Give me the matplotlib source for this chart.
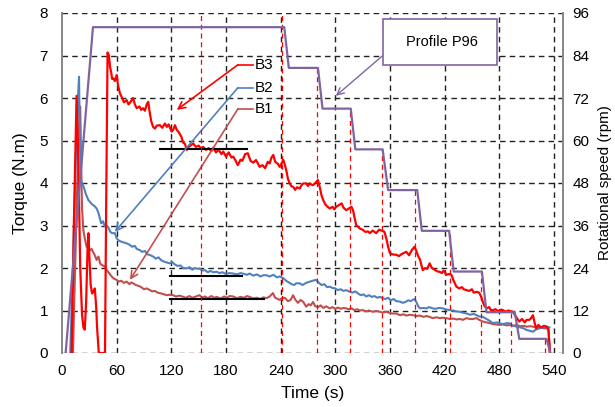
import matplotlib
matplotlib.use("Agg")
import matplotlib.pyplot as plt
from matplotlib.patches import Rectangle

plt.rcParams['font.family'] = ['Liberation Sans', 'DejaVu Sans']

# ---- torque traces (time in s, torque in N.m) ----
b3_t = [10.6, 13, 16, 18, 20, 22, 23.5, 25, 26.5, 28, 29, 30, 31.5, 33, 34.5, 36, 37.5, 38.5, 40.4,
        47.2, 48.5, 50, 51.5, 52.7, 54, 55, 56.3, 58, 60, 61.5, 63.6, 66, 68, 71, 73, 75, 78, 80, 82, 85,
        87, 89, 91, 93, 94.7, 96, 98, 100, 102, 104, 107.5, 110, 113, 115, 117, 120.3, 122, 124, 126,
        128, 131, 133, 135, 137, 139, 141, 144, 147, 150, 152, 155, 158, 161, 164, 166, 169, 172, 175,
        177, 180, 183, 186, 188, 190, 193, 196, 198, 201, 204, 207, 210, 213, 217, 220, 223, 226, 228,
        230, 232, 234, 237, 239, 241, 243, 245, 246.5, 248, 250, 252, 253.7, 256, 258, 261, 263, 265,
        268, 270, 272, 274, 275.6, 278, 281, 283, 285, 286.7, 289, 291, 294, 297, 299, 301, 304, 307,
        309, 312, 315, 317.8, 319.5, 321, 323, 325, 327, 330, 333, 336, 338, 341, 343, 345, 348, 351,
        354, 356, 358, 360, 363, 367, 370, 373, 376, 378, 381, 384, 387, 389, 391, 393, 396, 399, 401,
        403.6, 406, 409, 412, 414.6, 417, 419, 422, 425, 427.4, 430, 433, 436, 439, 441, 444, 447, 450,
        452, 455, 458, 460, 462, 464, 466, 469, 471, 473, 476, 479, 482, 484, 487, 490, 493, 495, 497,
        500, 502, 505, 508, 510, 513, 515, 517, 519, 520.6, 523, 526, 529, 532, 534, 535.5]
b3_q = [0, 3.0, 6.05, 4.5, 2.0, 0.9, 0.6, 0.55, 1.2, 2.4, 2.82, 2.3, 1.6, 1.4, 1.45, 1.52, 1.1, 0.6, 0,
        0, 3.5, 7.07, 7.0, 6.74, 6.6, 6.45, 6.46, 6.4, 6.54, 6.3, 6.11, 6.0, 5.9, 5.95, 5.85, 5.9, 6.0,
        5.85, 5.76, 5.8, 5.72, 5.76, 5.7, 5.85, 5.91, 5.7, 5.45, 5.32, 5.28, 5.35, 5.36, 5.30, 5.40,
        5.32, 5.38, 5.21, 5.25, 5.36, 5.25, 5.2, 5.09, 4.95, 4.92, 4.78, 4.85, 4.88, 4.93, 4.85, 4.88,
        4.82, 4.85, 4.78, 4.82, 4.75, 4.83, 4.72, 4.78, 4.68, 4.74, 4.62, 4.72, 4.6, 4.62, 4.55, 4.42,
        4.55, 4.52, 4.68, 4.70, 4.52, 4.48, 4.54, 4.38, 4.42, 4.35, 4.5, 4.46, 4.6, 4.66, 4.5, 4.45,
        4.38, 4.46, 4.54, 4.4, 4.27, 4.1, 3.99, 3.92, 3.91, 3.84, 3.9, 3.87, 3.95, 3.99, 3.99, 3.93,
        3.99, 3.96, 3.95, 4.0, 4.07, 3.9, 3.7, 3.6, 3.5, 3.45, 3.40, 3.44, 3.38, 3.44, 3.48, 3.52, 3.42,
        3.36, 3.4, 3.44, 3.36, 3.2, 3.01, 2.97, 2.93, 2.9, 2.85, 2.86, 2.82, 2.88, 2.85, 2.82, 2.9, 2.88,
        2.85, 2.7, 2.5, 2.35, 2.32, 2.31, 2.28, 2.33, 2.36, 2.38, 2.3, 2.42, 2.50, 2.4, 2.28, 2.2, 1.95,
        2.0, 1.98, 2.11, 2.0, 1.96, 1.92, 1.91, 1.88, 1.94, 1.84, 1.86, 1.84, 1.7, 1.56, 1.52, 1.55,
        1.5, 1.48, 1.46, 1.5, 1.42, 1.44, 1.42, 1.33, 1.2, 1.1, 1.05, 1.08, 1.0, 1.01, 1.03, 0.98, 1.02,
        1.01, 0.97, 1.0, 0.98, 0.97, 0.9, 0.8, 0.74, 0.8, 0.72, 0.78, 0.78, 0.82, 0.89, 0.7, 0.58,
        0.66, 0.6, 0.64, 0.62, 0.55, 0]

b2_t = [9, 12, 15, 17.5, 18.7, 19.5, 20.8, 22, 24, 26, 28.9, 31, 33, 36, 38, 40, 43, 45, 47, 49, 51,
        53, 55, 58, 60, 62, 65, 68, 71, 74, 77, 80, 82, 85.5, 88, 91, 94, 97, 100, 103, 106, 109, 112,
        115, 118, 121, 124, 127, 130, 133, 137, 140, 143, 146, 149, 151, 154, 157, 160, 163, 166, 170,
        173, 176, 180, 184, 188, 192, 196, 200, 203, 206, 210, 214, 218, 221, 224.5, 228, 232, 236, 239,
        243, 246, 249, 252, 255, 257, 261, 264, 268, 272, 275, 279, 282, 285, 288, 291, 294, 297, 300,
        303, 306, 309, 312, 316, 319, 322, 325, 328, 331, 334, 337, 340, 343, 346, 349, 352, 355, 358,
        361, 364, 367, 371, 374, 377, 380, 383, 385, 387, 389, 391, 393, 396, 400, 403, 407, 410, 414,
        418, 421, 425.6, 429, 433, 436.6, 440, 444, 448, 452, 455, 458, 462, 466, 470, 473, 477, 480.5,
        484, 488, 491, 494, 499, 503, 507, 510, 514, 517, 520, 524, 528, 533, 535]
b2_q = [0, 2.0, 4.5, 6.0, 6.5, 5.2, 4.07, 4.0, 3.9, 3.75, 3.6, 3.55, 3.5, 3.45, 3.4, 3.3, 3.05, 3.1,
        2.98, 3.0, 2.95, 2.85, 2.82, 2.82, 2.7, 2.65, 2.62, 2.6, 2.58, 2.55, 2.5, 2.52, 2.45, 2.42,
        2.38, 2.4, 2.32, 2.3, 2.27, 2.22, 2.25, 2.18, 2.15, 2.13, 2.11, 2.14, 2.08, 2.05, 2.06, 2.0,
        1.99, 2.02, 1.96, 2.0, 1.98, 1.99, 1.94, 1.95, 1.9, 1.93, 1.9, 1.91, 1.88, 1.9, 1.86, 1.88,
        1.87, 1.85, 1.88, 1.86, 1.84, 1.87, 1.82, 1.85, 1.8, 1.83, 1.83, 1.8, 1.84, 1.78, 1.8, 1.76,
        1.7, 1.66, 1.62, 1.60, 1.64, 1.64, 1.6, 1.65, 1.68, 1.7, 1.72, 1.65, 1.6, 1.62, 1.55, 1.56,
        1.53, 1.52, 1.48, 1.5, 1.46, 1.48, 1.44, 1.42, 1.45, 1.4, 1.36, 1.38, 1.33, 1.36, 1.32, 1.34,
        1.3, 1.32, 1.29, 1.27, 1.3, 1.24, 1.27, 1.22, 1.21, 1.18, 1.2, 1.24, 1.22, 1.25, 1.27, 1.2,
        1.1, 1.05, 1.06, 1.05, 1.08, 1.05, 1.04, 1.06, 1.05, 1.03, 1.01, 1.0, 0.98, 0.97, 0.95, 0.93,
        0.9, 0.92, 0.89, 0.86, 0.85, 0.8, 0.75, 0.70, 0.72, 0.70, 0.68, 0.7, 0.70, 0.65, 0.62, 0.6,
        0.58, 0.54, 0.52, 0.50, 0.55, 0.58, 0.6, 0.62, 0.6]

b1_t = [12, 15, 18, 20, 21, 22, 23.4, 25, 27, 29, 30.7, 32.5, 34, 36, 38, 40, 42, 44, 47, 49, 51,
        54.5, 57, 60, 62, 65, 68, 71, 74, 76, 78, 81, 84, 87, 90, 93, 96.5, 99, 102, 105, 109, 112,
        115, 118, 122, 125, 129, 133, 136, 140, 143, 147, 151, 154, 157, 160, 164, 167, 170, 174, 178,
        181, 184, 188, 192, 196, 200, 203, 206, 210, 214, 218, 221, 224.5, 228, 231.5, 234, 237, 239,
        242, 245, 248, 251, 253.7, 256, 259, 262, 265, 268, 271, 273, 275.6, 278, 281, 284, 287, 290,
        294, 297, 300, 303, 306, 309, 312, 315, 318, 321, 324, 327, 330, 334, 337, 341, 345, 349, 352,
        356, 360, 363, 367, 371, 375, 378, 382, 385, 389, 393, 397, 400, 403.6, 407, 411, 415, 418, 422,
        426, 430, 433, 437, 440, 444, 448, 451, 455, 458, 462, 466, 470, 473, 477, 480.5, 484, 488, 492,
        495, 499, 503, 507, 510, 514, 517, 521, 525, 529, 532, 534, 536]
b1_q = [0, 2.5, 5.0, 5.8, 4.5, 3.4, 2.9, 2.7, 2.5, 2.45, 2.42, 2.45, 2.38, 2.3, 2.19, 2.27, 2.1,
        2.07, 2.03, 1.95, 1.9, 1.8, 1.75, 1.72, 1.68, 1.7, 1.65, 1.68, 1.62, 1.66, 1.64, 1.6, 1.58,
        1.55, 1.5, 1.52, 1.48, 1.45, 1.46, 1.42, 1.40, 1.38, 1.36, 1.37, 1.36, 1.33, 1.35, 1.32, 1.3,
        1.34, 1.3, 1.33, 1.36, 1.3, 1.33, 1.29, 1.34, 1.3, 1.32, 1.28, 1.33, 1.3, 1.34, 1.33, 1.29,
        1.32, 1.3, 1.34, 1.32, 1.28, 1.3, 1.27, 1.31, 1.29, 1.33, 1.41, 1.3, 1.27, 1.25, 1.3, 1.29,
        1.22, 1.25, 1.36, 1.26, 1.18, 1.25, 1.2, 1.09, 1.15, 1.12, 1.2, 1.1, 1.08, 1.12, 1.06, 1.1,
        1.05, 1.08, 1.04, 1.07, 1.04, 1.06, 1.05, 1.03, 1.05, 1.01, 1.03, 1.0, 1.01, 0.98, 1.0, 0.97,
        0.99, 0.97, 0.95, 0.97, 0.94, 0.93, 0.93, 0.89, 0.91, 0.88, 0.9, 0.89, 0.87, 0.88, 0.85, 0.87,
        0.85, 0.82, 0.84, 0.82, 0.83, 0.82, 0.8, 0.81, 0.79, 0.8, 0.78, 0.82, 0.8, 0.8, 0.82, 0.78,
        0.74, 0.72, 0.7, 0.68, 0.67, 0.66, 0.67, 0.65, 0.66, 0.64, 0.66, 0.63, 0.64, 0.62, 0.63, 0.62,
        0.6, 0.61, 0.58, 0.58, 0.56, 0]

# ---- speed profile P96 (time in s, speed in rpm) ----
prof_t = [4, 34, 244, 249, 281, 286, 317, 322, 352, 358, 390, 395, 425, 430, 461, 466, 497, 502,
          532, 536]
prof_rpm = [0, 92, 92, 80.5, 80.5, 69, 69, 57.5, 57.5, 46, 46, 34.5, 34.5, 23, 23, 11.5, 11.5, 4,
            4, 0]

# step markers (time in s, top in rpm)
mark_t = [153, 242, 280, 316, 351, 387, 425.5, 459.5, 492.5, 530.5]
mark_top = [96, 96, 80.5, 69, 57.5, 46, 34.5, 23, 11.5, 4]

# reference levels (start s, end s, torque N.m)
ref_lines = [(107.5, 202.6, 4.8), (119, 198, 1.82), (119, 221.5, 1.26)]

x_ticks = [0, 60, 120, 180, 240, 300, 360, 420, 480, 540]
y_ticks = [0, 1, 2, 3, 4, 5, 6, 7, 8]
rpm_ticks = [0, 12, 24, 36, 48, 60, 72, 84, 96]

C_B3 = '#FF0000'
C_B2 = '#4F81BD'
C_B1 = '#C0504D'
C_PROF = '#8064A2'
GRAY = '#868686'

fig = plt.figure(figsize=(6.15, 4.07), dpi=100)
ax = fig.add_axes([62 / 615, 54 / 407, 501 / 615, 340 / 407])
ax.set_xlim(0, 550)
ax.set_ylim(0, 8)

dash = (0, (4, 3))
for y in y_ticks:
    ax.axhline(y, color='#222222', lw=1.0, ls=dash, zorder=0.5)
for x in x_ticks[1:]:
    ax.axvline(x, color='#222222', lw=1.0, ls=dash, zorder=0.5)

ax2 = ax.twinx()
ax2.set_ylim(0, 96)

for t, top in zip(mark_t, mark_top):
    ax2.plot([t, t], [0, top], color=C_B3, lw=0.9, ls=(0, (4, 3)), zorder=1)

ax.plot(b1_t, b1_q, color=C_B1, lw=1.5, zorder=3)
ax.plot(b2_t, b2_q, color=C_B2, lw=1.5, zorder=3)
ax.plot(b3_t, b3_q, color=C_B3, lw=1.6, zorder=4)

for x0, x1, y in ref_lines:
    ax.plot([x0, x1], [y, y], color='black', lw=1.5, zorder=5)

ax2.plot(prof_t, prof_rpm, color=C_PROF, lw=1.6, zorder=3)

# curve labels with leader arrows
labels = [('B3', 6.78, (126, 5.72), C_B3),
          ('B2', 6.24, (58, 2.85), C_B2),
          ('B1', 5.74, (74.6, 1.72), C_B1)]
for name, ly, tip, col in labels:
    ax.text(211.5, ly, name, fontsize=11, va='center', ha='left', zorder=6)
    ax.plot([193, 209.5], [ly, ly], color=col, lw=1.2, zorder=6)
    ax.annotate('', xy=tip, xytext=(193, ly),
                arrowprops=dict(arrowstyle='->,head_length=0.5,head_width=0.25',
                                color=col, lw=1.2, shrinkA=0, shrinkB=0), zorder=6)

# profile callout
ax.add_patch(Rectangle((352, 6.78), 126, 1.07, facecolor='white', edgecolor=C_PROF,
                       lw=1.2, zorder=6))
ax.text(417.5, 7.31, 'Profile P96', fontsize=10.5, ha='center', va='center', zorder=7)
ax.annotate('', xy=(300.6, 6.05), xytext=(351.7, 6.99),
            arrowprops=dict(arrowstyle='->,head_length=0.5,head_width=0.25',
                            color=C_PROF, lw=1.0, shrinkA=0, shrinkB=0), zorder=6)

ax.set_xticks(x_ticks)
ax.set_yticks(y_ticks)
ax2.set_yticks(rpm_ticks)
ax.tick_params(axis='x', length=0, pad=8, labelsize=11)
ax.tick_params(axis='y', length=0, pad=10, labelsize=11)
ax2.tick_params(axis='y', length=0, pad=7, labelsize=11)

for a in (ax, ax2):
    a.spines['top'].set_visible(False)
    a.spines['bottom'].set_visible(False)
    a.spines['left'].set_color(GRAY)
    a.spines['right'].set_color(GRAY)
    a.spines['left'].set_linewidth(1.2)
    a.spines['right'].set_linewidth(1.2)
ax.set_facecolor('white')

ax.set_xlabel('Time (s)', fontsize=12.5, labelpad=6)
ax.set_ylabel('Torque (N.m)', fontsize=12.5, labelpad=8)
ax2.set_ylabel('Rotational speed (rpm)', fontsize=11, labelpad=6)

fig.savefig('out.png', dpi=100, facecolor='white')
